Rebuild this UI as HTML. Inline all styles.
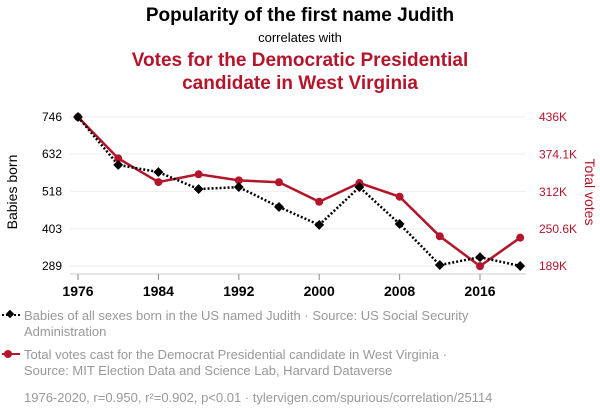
<!DOCTYPE html>
<html><head><meta charset="utf-8"><style>
body{margin:0;background:#fff;font-family:"Liberation Sans",sans-serif;}
svg{display:block}
</style></head><body>
<svg width="600" height="414" xmlns="http://www.w3.org/2000/svg" id="chart">
<text x="300" y="21" text-anchor="middle" font-size="19" font-weight="bold" fill="#000">Popularity of the first name Judith</text>
<text x="300" y="42" text-anchor="middle" font-size="13" fill="#000">correlates with</text>
<text x="300" y="66" text-anchor="middle" font-size="19" font-weight="bold" fill="#b5152b">Votes for the Democratic Presidential</text>
<text x="300" y="89" text-anchor="middle" font-size="19" font-weight="bold" fill="#b5152b">candidate in West Virginia</text>
<g id="grid"></g>
<g id="axes"></g>
<g id="series"></g>
<text transform="translate(17,192) rotate(-90)" text-anchor="middle" font-size="14" fill="#000">Babies born</text>
<text transform="translate(585,192) rotate(90)" text-anchor="middle" font-size="14" fill="#b5152b">Total votes</text>
<g>
<line x1="2" y1="315" x2="20" y2="315" stroke="#000" stroke-width="2" stroke-dasharray="2,2"/>
<rect x="7" y="311" width="6" height="6" transform="rotate(45 10 314)" fill="#000"/>
<text x="24" y="320" font-size="13" fill="#999">Babies of all sexes born in the US named Judith · Source: US Social Security</text>
<text x="24" y="336" font-size="13" fill="#999">Administration</text>
</g>
<g>
<line x1="2" y1="354" x2="20" y2="354" stroke="#b5152b" stroke-width="2"/>
<circle cx="8" cy="354" r="4" fill="#b5152b"/>
<text x="24" y="359" font-size="13" fill="#999">Total votes cast for the Democrat Presidential candidate in West Virginia ·</text>
<text x="24" y="375" font-size="13" fill="#999">Source: MIT Election Data and Science Lab, Harvard Dataverse</text>
</g>
<text x="24" y="402" font-size="13" fill="#999">1976-2020, r=0.950, r²=0.902, p&lt;0.01 · tylervigen.com/spurious/correlation/25114</text>
</svg>
<script>
const years=[1976,1980,1984,1988,1992,1996,2000,2004,2008,2012,2016,2020];
const babies=[746,599,577,525,531,470,415,531,418,292,316,289];
const votes=[435914,367462,328125,341016,331001,327812,295497,326541,303857,238269,188794,235984];
const leftTicks=[746,632,518,403,289];
const rightTicks=[436000,374100,312000,250600,189000];
const rightLabels=["436K","374.1K","312K","250.6K","189K"];
const xTicks=[1976,1984,1992,2000,2008,2016];
const NS="http://www.w3.org/2000/svg";
const x=y=>78+(y-1976)*10.05;
const yL=v=>117+(746-v)*(149/457);
const yR=v=>117+(436000-v)*(149/247000);
function el(t,a,p){const e=document.createElementNS(NS,t);for(const k in a)e.setAttribute(k,a[k]);p.appendChild(e);return e;}
const grid=document.getElementById('grid'),axes=document.getElementById('axes'),ser=document.getElementById('series');
leftTicks.forEach((v,i)=>{
 const g=el('line',{x1:70,x2:526,y1:yL(v),y2:yL(v),stroke:'#eee','stroke-width':1},grid);
 
 
 const t=el('text',{x:62,y:yL(v)+4,'text-anchor':'end','font-size':12,fill:'#000'},axes);t.textContent=v;
 
 
});
const base=el('line',{x1:70,x2:526,y1:274,y2:274,stroke:'#ccc','stroke-width':1},axes);


rightTicks.forEach((v,i)=>{
 const t=el('text',{x:539,y:yR(v)+4,'font-size':12,fill:'#b5152b'},axes);t.textContent=rightLabels[i];
 
 
});
xTicks.forEach(v=>{
 const tk=el('line',{x1:x(v),x2:x(v),y1:274,y2:280,stroke:'#888','stroke-width':1},axes);
 
 
 const t=el('text',{x:x(v),y:296,'text-anchor':'middle','font-size':14,'font-weight':'bold',fill:'#000'},axes);t.textContent=v;
 
 
});
const pr=el('polyline',{points:years.map((y,i)=>x(y)+','+yR(votes[i])).join(' '),fill:'none',stroke:'#b5152b','stroke-width':2.5},ser);


const pb=el('polyline',{points:years.map((y,i)=>x(y)+','+yL(babies[i])).join(' '),fill:'none',stroke:'#000','stroke-width':2.5,'stroke-dasharray':'2,2'},ser);


years.forEach((y,i)=>{
 const c=el('circle',{cx:x(y),cy:yR(votes[i]),r:4,fill:'#b5152b'},ser);
 
 
});
years.forEach((y,i)=>{
 const cx=x(y),cy=yL(babies[i]);
 const r=el('rect',{x:cx-3.5,y:cy-3.5,width:7,height:7,fill:'#000',transform:`rotate(45 ${cx} ${cy})`},ser);
 
 
});
</script>
</body></html>
